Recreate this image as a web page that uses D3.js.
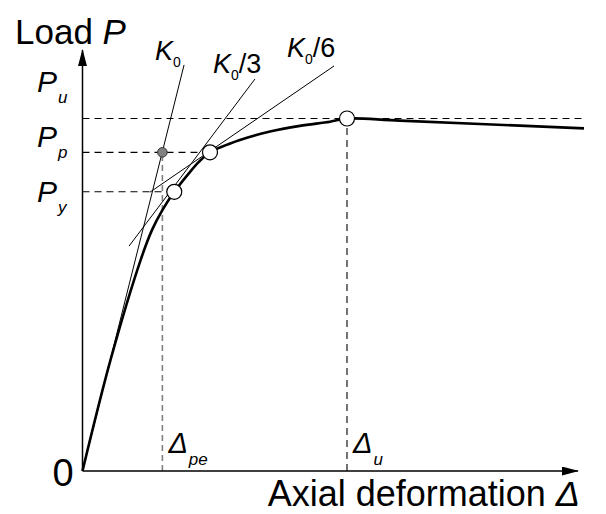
<!DOCTYPE html>
<html>
<head>
<meta charset="utf-8">
<script src="https://cdn.jsdelivr.net/npm/d3@7"></script>
<style>
  body { margin: 0; background: #fff; }
  text { font-family: "Liberation Sans", Arial, sans-serif; fill: #000; }
</style>
</head>
<body>
<script>
// normalised values: deformation / Δu, load / Pu
var curveDef = [0, 0.106, 0.220, 0.263, 0.302, 0.347, 0.406, 0.440, 0.482, 0.595, 0.709, 0.822, 0.936, 1.0, 1.2, 1.896];
var curveLoad = [0, 0.315, 0.599, 0.684, 0.740, 0.792, 0.848, 0.877, 0.904, 0.939, 0.963, 0.979, 0.991, 1.0, 0.994, 0.972];

// stiffness lines, [x1, y1, x2, y2]
var tangentNames = ["K0", "K0/3", "K0/6"];
var tangentEnds = [[0, 0, 0.384, 1.152], [0.176, 0.638, 0.652, 1.112], [0.255, 0.791, 0.951, 1.149]];

var loadNames = ["u", "p", "y"];
var loadValues = [1.0, 0.904, 0.792];
var loadDefs = [1.0, 0.482, 0.347];   // where the dashed guide stops
var peDef = 0.302;                     // Δpe
var uDef = 1.0;                        // Δu
var axisMax = [1.873, 1.194];
var pUDashEnd = 1.892;

var width = 606, height = 514;

var x = d3.scaleLinear().domain([0, 1]).range([82.5, 347]);
var y = d3.scaleLinear().domain([0, 1]).range([471, 118.5]);

var svg = d3.select("body").append("svg")
    .attr("width", width)
    .attr("height", height);

var defs = svg.append("defs");
defs.append("marker")
    .attr("id", "arrow")
    .attr("markerUnits", "userSpaceOnUse")
    .attr("markerWidth", 18).attr("markerHeight", 10)
    .attr("refX", 16).attr("refY", 4.5)
    .attr("orient", "auto")
  .append("path")
    .attr("d", "M0,0L17,4.5L0,9Z")
    .attr("fill", "#000");

// dashed guides
function dash(x1, y1, x2, y2, col) {
  svg.append("line")
      .attr("x1", x(x1)).attr("y1", y(y1))
      .attr("x2", x(x2)).attr("y2", y(y2))
      .attr("stroke", col)
      .attr("stroke-width", 1.1)
      .attr("stroke-dasharray", "7,5");
}
dash(0, loadValues[0], pUDashEnd, loadValues[0], "#000");
dash(0, loadValues[1], loadDefs[1], loadValues[1], "#000");
dash(0, loadValues[2], loadDefs[2], loadValues[2], "#000");
dash(uDef, 0, uDef, loadValues[0], "#000");
svg.append("line")
    .attr("x1", x(peDef)).attr("y1", y(0))
    .attr("x2", x(peDef)).attr("y2", y(loadValues[1]))
    .attr("stroke", "#808080")
    .attr("stroke-width", 1.6)
    .attr("stroke-dasharray", "6,4");

// axes
svg.append("line")
    .attr("x1", x(0)).attr("y1", y(0))
    .attr("x2", x(axisMax[0])).attr("y2", y(0))
    .attr("stroke", "#000").attr("stroke-width", 1.5)
    .attr("marker-end", "url(#arrow)");
svg.append("line")
    .attr("x1", x(0)).attr("y1", y(0))
    .attr("x2", x(0)).attr("y2", y(axisMax[1]))
    .attr("stroke", "#000").attr("stroke-width", 1.5)
    .attr("marker-end", "url(#arrow)");

// tangent lines
svg.selectAll(".tan")
    .data(tangentEnds)
  .enter().append("line")
    .attr("class", "tan")
    .attr("x1", function(d) { return x(d[0]); })
    .attr("y1", function(d) { return y(d[1]); })
    .attr("x2", function(d) { return x(d[2]); })
    .attr("y2", function(d) { return y(d[3]); })
    .attr("stroke", "#000")
    .attr("stroke-width", 1);

// load curve
var pts = curveDef.map(function(d, i) { return [d, curveLoad[i]]; });
var line = d3.line()
    .x(function(d) { return x(d[0]); })
    .y(function(d) { return y(d[1]); })
    .curve(d3.curveCatmullRom.alpha(0.5));
svg.append("path")
    .datum(pts)
    .attr("d", line)
    .attr("fill", "none")
    .attr("stroke", "#000")
    .attr("stroke-width", 2.6);

// markers
svg.append("circle")
    .attr("cx", x(peDef)).attr("cy", y(loadValues[1]))
    .attr("r", 4.8)
    .attr("fill", "#808080").attr("stroke", "#333").attr("stroke-width", 1);
svg.selectAll(".pt")
    .data(loadValues)
  .enter().append("circle")
    .attr("class", "pt")
    .attr("cx", function(d, i) { return x(loadDefs[i]); })
    .attr("cy", function(d) { return y(d); })
    .attr("r", 7.5)
    .attr("fill", "#fff").attr("stroke", "#000").attr("stroke-width", 1.2);

// labels
var t = svg.append("text").attr("x", 15).attr("y", 44).style("font-size", "35px");
t.append("tspan").text("Load ");
t.append("tspan").style("font-style", "italic").text("P");

svg.append("text").attr("x", 63).attr("y", 486)
    .attr("text-anchor", "middle").style("font-size", "38px").text("0");

var ax = svg.append("text").attr("x", 580).attr("y", 506)
    .attr("text-anchor", "end").style("font-size", "36px");
ax.append("tspan").text("Axial deformation ");
ax.append("tspan").style("font-style", "italic").text("Δ");

var pBase = [92, 147, 202];
loadNames.forEach(function(n, i) {
  var g = svg.append("text")
      .attr("x", 37).attr("y", pBase[i])
      .style("font-style", "italic");
  g.append("tspan").style("font-size", "30px").text("P");
  g.append("tspan").attr("dx", 1).attr("dy", 11).style("font-size", "17px").text(n);
});

var kPos = [[155, 60], [213, 73], [287, 57]];
tangentNames.forEach(function(n, i) {
  var g = svg.append("text").attr("x", kPos[i][0]).attr("y", kPos[i][1]);
  g.append("tspan").style("font-size", "27px").style("font-style", "italic").text("K");
  g.append("tspan").attr("dy", 7).style("font-size", "14px").text("0");
  if (n.length > 2) {
    g.append("tspan").attr("dy", -7).style("font-size", "27px").text(n.slice(2));
  }
});

var dLabels = [[peDef, "pe"], [uDef, "u"]];
dLabels.forEach(function(d) {
  var g = svg.append("text")
      .attr("x", x(d[0]) + 6).attr("y", 453)
      .style("font-style", "italic");
  g.append("tspan").style("font-size", "29px").text("Δ");
  g.append("tspan").attr("dx", 1).attr("dy", 12).style("font-size", "17px").text(d[1]);
});
</script>
</body>
</html>
